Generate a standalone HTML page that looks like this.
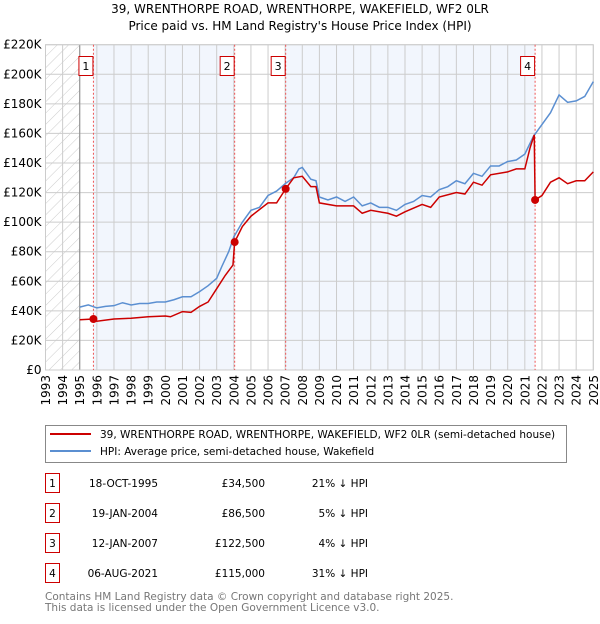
<!DOCTYPE html>
<html><head><meta charset="utf-8"><style>
body{margin:0;background:#fff;font-family:"DejaVu Sans","Liberation Sans",sans-serif;}
svg text{font-family:"DejaVu Sans","Liberation Sans",sans-serif;}
</style></head><body>
<svg id="chart" width="600" height="620" xmlns="http://www.w3.org/2000/svg">
<defs><pattern id="hatch" width="8" height="8" patternUnits="userSpaceOnUse" patternTransform="rotate(45)"><line x1="0" y1="0" x2="0" y2="8" stroke="#ccc" stroke-width="1"/></pattern></defs>
<text x="300" y="13" text-anchor="middle" font-size="12">39, WRENTHORPE ROAD, WRENTHORPE, WAKEFIELD, WF2 0LR</text>
<text x="300" y="30" text-anchor="middle" font-size="12">Price paid vs. HM Land Registry's House Price Index (HPI)</text>
<g id="plot"></g>
<g>
<rect x="45.5" y="425.5" width="521" height="37" fill="#fff" stroke="#888"/>
<line x1="50" y1="434" x2="91" y2="434" stroke="#cc0000" stroke-width="2"/>
<text x="100" y="438" font-size="10.5">39, WRENTHORPE ROAD, WRENTHORPE, WAKEFIELD, WF2 0LR (semi-detached house)</text>
<line x1="50" y1="451" x2="91" y2="451" stroke="#5b8fd1" stroke-width="2"/>
<text x="100" y="455" font-size="10.5">HPI: Average price, semi-detached house, Wakefield</text>
</g>
<g id="table" font-size="10.5"></g>
<text x="45" y="600" font-size="10.5" fill="#777">Contains HM Land Registry data © Crown copyright and database right 2025.</text>
<text x="45" y="611" font-size="10.5" fill="#777">This data is licensed under the Open Government Licence v3.0.</text>
</svg>
<script>
const hpiYears=[1995,1995.5,1996,1996.5,1997,1997.5,1998,1998.5,1999,1999.5,2000,2000.5,2001,2001.5,2002,2002.5,2003,2003.3,2003.7,2004,2004.5,2005,2005.5,2006,2006.5,2007,2007.5,2007.8,2008,2008.5,2008.8,2009,2009.5,2010,2010.5,2011,2011.5,2012,2012.5,2013,2013.5,2014,2014.5,2015,2015.5,2016,2016.5,2017,2017.5,2018,2018.5,2019,2019.5,2020,2020.5,2021,2021.5,2022,2022.5,2023,2023.5,2024,2024.5,2025];
const hpiValues=[42.5,44,42,43,43.5,45.5,44,45,45,46,46,47.5,49.5,49.5,53,57,62,70,80,90,100,108,110,118,121,126,130,136,137,129,128,117,115,117,114,117,111,113,110,110,108,112,114,118,117,122,124,128,126,133,131,138,138,141,142,146,158,166,174,186,181,182,185,195];
const priceYears=[1995,1995.8,1996,1997,1998,1999,2000,2000.3,2001,2001.5,2002,2002.5,2003,2003.5,2003.95,2004.05,2004.5,2005,2006,2006.5,2007.03,2007.5,2008,2008.5,2008.8,2009,2010,2011,2011.5,2012,2013,2013.5,2014,2015,2015.5,2016,2017,2017.5,2018,2018.5,2019,2020,2020.5,2021,2021.3,2021.55,2021.6,2022,2022.5,2023,2023.5,2024,2024.5,2025];
const priceValues=[34,34.5,33,34.5,35,36,36.5,36,39.5,39,43,46,55,64,71,86.5,97,104,113,113,122.5,130,131,124,124,113,111,111,106,108,106,104,107,112,110,117,120,119,127,125,132,134,136,136,150,159,115,118,127,130,126,128,128,134];
const saleYears=[1995.8,2004.05,2007.03,2021.6];
const saleValues=[34.5,86.5,122.5,115];
const saleLabels=["1","2","3","4"];
const saleDates=["18-OCT-1995","19-JAN-2004","12-JAN-2007","06-AUG-2021"];
const salePrices=["£34,500","£86,500","£122,500","£115,000"];
const saleDiffs=["21% ↓ HPI","5% ↓ HPI","4% ↓ HPI","31% ↓ HPI"];
const yTicks=[0,20,40,60,80,100,120,140,160,180,200,220];
const yTickLabels=["£0","£20K","£40K","£60K","£80K","£100K","£120K","£140K","£160K","£180K","£200K","£220K"];
const xTicks=[1993,1994,1995,1996,1997,1998,1999,2000,2001,2002,2003,2004,2005,2006,2007,2008,2009,2010,2011,2012,2013,2014,2015,2016,2017,2018,2019,2020,2021,2022,2023,2024,2025];

const NS="http://www.w3.org/2000/svg";
const X0=45.5,X1=593.3,Y0=370,Y1=44.7;
const x=v=>X0+(v-1993)/32*(X1-X0);
const y=v=>Y0-(v/220)*(Y0-Y1);
function mk(p,tag,attrs){const e=document.createElementNS(NS,tag);for(const k in attrs)e.setAttribute(k,attrs[k]);p.appendChild(e);return e;}
const plot=document.getElementById('plot');
// bands
const bandEdges=[1995].concat(saleYears).concat([2025]);
for(let i=0;i<bandEdges.length-1;i++){
  if(i%2===1){const r=mk(plot,'rect',{x:x(bandEdges[i]),y:Y1,width:x(bandEdges[i+1])-x(bandEdges[i]),height:Y0-Y1,fill:'#eef3fc',opacity:0.75});
  
  }
}
const h=mk(plot,'rect',{x:X0,y:Y1,width:x(1995)-X0,height:Y0-Y1,fill:'url(#hatch)'});


// grid
yTicks.forEach((t,i)=>{
  const l=mk(plot,'line',{x1:X0,x2:X1,y1:y(t),y2:y(t),stroke:'#ccc'});
  
  
  const tx=mk(plot,'text',{x:X0-4,y:y(t)+4,'text-anchor':'end','font-size':12});
  tx.textContent=yTickLabels[i];
  
  
});
xTicks.forEach(t=>{
  const l=mk(plot,'line',{x1:x(t),x2:x(t),y1:Y1,y2:Y0,stroke:'#ccc'});
  
  
  const tx=mk(plot,'text',{x:0,y:0,'text-anchor':'end','font-size':12,transform:`translate(${x(t)+4.5},${Y0+5}) rotate(-90)`});
  tx.textContent=t;
  
  
});
mk(plot,'line',{x1:x(1995),x2:x(1995),y1:Y1,y2:Y0,stroke:'#888'});
mk(plot,'rect',{x:X0,y:Y1,width:X1-X0,height:Y0-Y1,fill:'none',stroke:'#ccc'});
// sale markers lines
saleYears.forEach((s,i)=>{
  const l=mk(plot,'line',{x1:x(s),x2:x(s),y1:Y1,y2:Y0,stroke:'#e55','stroke-dasharray':'2,2'});
  
  
  const bx=x(s)-14;
  const b=mk(plot,'rect',{x:bx-0.5,y:56.5,width:14,height:19,fill:'#fff',stroke:'#cc0000'});
  
  
  const t=mk(plot,'text',{x:bx+6.5,y:70,'text-anchor':'middle','font-size':11});
  t.textContent=saleLabels[i];
});
const hp=mk(plot,'polyline',{points:hpiYears.map((v,i)=>x(v)+','+y(hpiValues[i])).join(' '),fill:'none',stroke:'#5b8fd1','stroke-width':1.5});


const pp=mk(plot,'polyline',{points:priceYears.map((v,i)=>x(v)+','+y(priceValues[i])).join(' '),fill:'none',stroke:'#cc0000','stroke-width':1.5});


saleYears.forEach((s,i)=>{
  const c=mk(plot,'circle',{cx:x(s),cy:y(saleValues[i]),r:4,fill:'#cc0000'});
  
  
});
// table
const tb=document.getElementById('table');
const rowY=[483,513,543,573];
saleLabels.forEach((lb,i)=>{
  const r=mk(tb,'rect',{x:45.5,y:rowY[i]-9.5,width:14,height:19,fill:'#fff',stroke:'#cc0000'});
  
  
  const a=mk(tb,'text',{x:52.5,y:rowY[i]+4,'text-anchor':'middle'});a.textContent=lb;
  const d=mk(tb,'text',{x:158,y:rowY[i]+4,'text-anchor':'end'});d.textContent=saleDates[i];
  
  
  const p=mk(tb,'text',{x:265,y:rowY[i]+4,'text-anchor':'end'});p.textContent=salePrices[i];
  
  
  const f=mk(tb,'text',{x:368,y:rowY[i]+4,'text-anchor':'end'});f.textContent=saleDiffs[i];
  
  
});
</script>
</body></html>
